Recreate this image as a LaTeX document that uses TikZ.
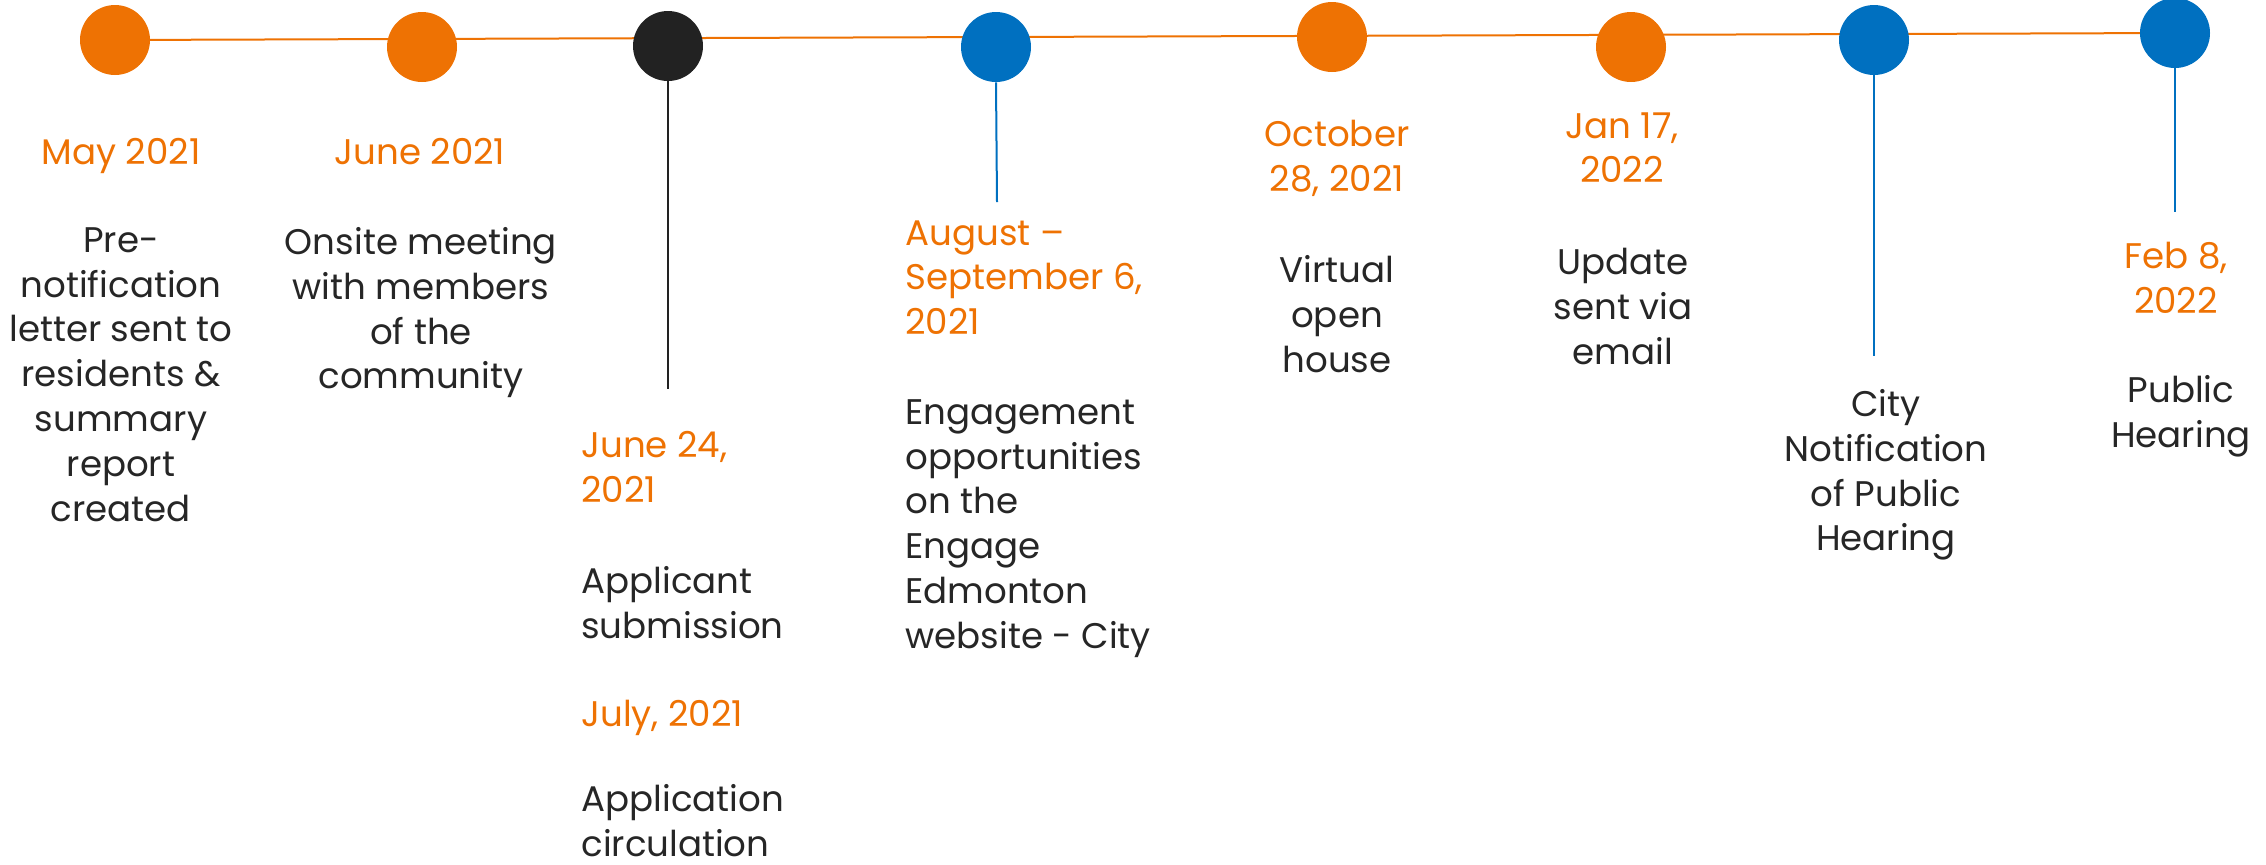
\documentclass[tikz,border=0pt]{standalone}
\usepackage{fontspec}
\setmainfont{Poppins}
\usetikzlibrary{backgrounds}

\definecolor{tlorange}{HTML}{EE7203}
\definecolor{tlblue}{HTML}{0070C0}
\definecolor{tlblack}{HTML}{222222}
\definecolor{tltext}{HTML}{262626}

\tikzset{
  dot/.style={circle,fill=#1,minimum size=35pt,inner sep=0pt},
  date/.style={text=tlorange,font=\fontsize{17.8}{22.4}\selectfont,inner sep=0pt,align=center,anchor=north},
  what/.style={text=tltext,font=\fontsize{17.8}{22.4}\selectfont,inner sep=0pt,align=center,anchor=north},
  leftcol/.style={align=left,anchor=north west}
}

\begin{document}
\begin{tikzpicture}[x=0.5pt,y=-0.5pt]
\useasboundingbox (0,0) rectangle (2266,864);

\node[dot=tlorange] (may) at (115,40) {};
\node[dot=tlorange] (june) at (422,47) {};
\node[dot=tlblack] (jun24) at (668,46) {};
\node[dot=tlblue] (aug) at (996,47) {};
\node[dot=tlorange] (oct) at (1332,37) {};
\node[dot=tlorange] (jan) at (1631,47) {};
\node[dot=tlblue] (city) at (1874,40) {};
\node[dot=tlblue] (feb) at (2175,33) {};

\begin{scope}[on background layer]
\draw[tlorange,line width=1pt] (may.center) -- (feb.center);
\end{scope}

\coordinate (jun24end) at (668,389);
\coordinate (augend) at (997,202);
\coordinate (cityend) at (1874,356);
\coordinate (febend) at (2175,212);
\draw[tlblack,line width=1.1pt] (jun24.south) -- (jun24end);
\draw[tlblue,line width=1pt] (aug.south) -- (augend);
\draw[tlblue,line width=1pt] (city.south) -- (cityend);
\draw[tlblue,line width=1pt] (feb.south) -- (febend);

\node[date] (maydate) at (121,138) {May 2021};
\node[what] (maytext) at (121,227) {Pre-\\notification\\letter sent to\\residents \&\\summary\\report\\created};

\node[date] (junedate) at (420,138) {June 2021};
\node[what] (junetext) at (421,227) {Onsite meeting\\with members\\of the\\community};

\node[date,leftcol] (jun24date) at (581,431) {June 24,\\2021};
\node[what,leftcol] (jun24text) at (581,566) {Applicant\\submission};
\node[date,leftcol] (julydate) at (581,700) {July, 2021};
\node[what,leftcol] (julytext) at (581,784) {Application\\circulation};

\node[date,leftcol] (augdate) at (905,220) {August –\\September 6,\\2021};
\node[what,leftcol] (augtext) at (905,399) {Engagement\\opportunities\\on the\\Engage\\Edmonton\\website - City};

\node[date] (octdate) at (1337,120) {October\\28, 2021};
\node[what] (octtext) at (1337,255) {Virtual\\open\\house};

\node[date] (jandate) at (1622,112) {Jan 17,\\2022};
\node[what] (jantext) at (1623,248) {Update\\sent via\\email};

\node[what] (citytext) at (1886,389) {City\\Notification\\of Public\\Hearing};

\node[date] (febdate) at (2176,242) {Feb 8,\\2022};
\node[what] (febtext) at (2181,375) {Public\\Hearing};

\end{tikzpicture}
\end{document}
